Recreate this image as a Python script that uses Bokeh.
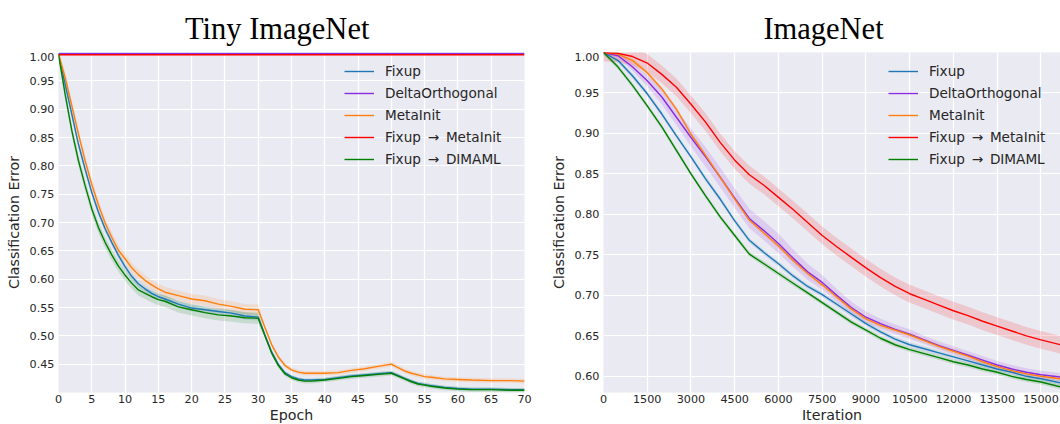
from bokeh.plotting import figure
from bokeh.models import (Range1d, FixedTicker, PrintfTickFormatter, Legend, LegendItem)
from bokeh.core.properties import value
from bokeh.layouts import row, column
from bokeh.embed import file_html
from bokeh.resources import INLINE

# ---------------- data: Tiny ImageNet (epochs) ----------------
tiny_epochs = [0, 1, 2, 3, 4, 5, 6, 7, 8, 9, 10, 11, 12, 13, 14, 15, 16, 18, 20, 22, 24, 26, 28, 30,
               31, 32, 33, 34, 35, 36, 37, 38, 40, 42, 44, 46, 48, 50, 51, 52, 53, 54, 55, 56, 58,
               60, 62, 65, 68, 70]
tiny_fixup = [0.997, 0.944, 0.891, 0.838, 0.794, 0.753, 0.718, 0.689, 0.665, 0.642, 0.622, 0.605,
              0.592, 0.583, 0.575, 0.569, 0.565, 0.556, 0.549, 0.546, 0.543, 0.540, 0.535, 0.533,
              0.502, 0.472, 0.450, 0.435, 0.428, 0.424, 0.422, 0.422, 0.423, 0.426, 0.429, 0.431,
              0.433, 0.435, 0.430, 0.425, 0.420, 0.416, 0.414, 0.412, 0.409, 0.407, 0.406, 0.406,
              0.405, 0.405]
tiny_metainit = [0.997, 0.956, 0.906, 0.856, 0.809, 0.767, 0.731, 0.699, 0.674, 0.651, 0.636, 0.620,
                 0.608, 0.598, 0.590, 0.583, 0.577, 0.571, 0.565, 0.562, 0.556, 0.552, 0.547, 0.546,
                 0.515, 0.485, 0.463, 0.448, 0.440, 0.436, 0.434, 0.434, 0.434, 0.435, 0.439, 0.442,
                 0.446, 0.450, 0.444, 0.438, 0.434, 0.431, 0.428, 0.427, 0.424, 0.423, 0.422, 0.421,
                 0.421, 0.420]
tiny_dimaml = [0.997, 0.926, 0.862, 0.809, 0.765, 0.724, 0.691, 0.665, 0.643, 0.623, 0.607, 0.593,
               0.581, 0.575, 0.569, 0.564, 0.561, 0.551, 0.546, 0.541, 0.537, 0.535, 0.532, 0.531,
               0.500, 0.470, 0.448, 0.433, 0.426, 0.422, 0.420, 0.420, 0.422, 0.425, 0.428, 0.430,
               0.432, 0.434, 0.429, 0.424, 0.419, 0.415, 0.413, 0.411, 0.408, 0.406, 0.405, 0.405,
               0.404, 0.404]
tiny_flat_epochs = [0, 35, 70]
tiny_delta = [0.9985, 0.9985, 0.9985]
tiny_fixup_metainit = [0.996, 0.996, 0.996]
# band half-widths (before / after epoch 30)
tiny_spread = {"fixup": (0.006, 0.003), "delta": (0.001, 0.001), "metainit": (0.009, 0.004),
               "fm": (0.001, 0.001), "dimaml": (0.010, 0.004)}

# ---------------- data: ImageNet (iterations) ----------------
img_iters = [0, 500, 1000, 1500, 2000, 2500, 3000, 3500, 4000, 4500, 5000, 5500, 6000, 6500, 7000,
             7500, 8000, 8500, 9000, 9500, 10000, 10500, 11000, 11500, 12000, 12500, 13000, 13500,
             14000, 14500, 15000, 15670]
img_fixup = [1.0, 0.990, 0.971, 0.949, 0.924, 0.897, 0.871, 0.844, 0.819, 0.792, 0.768, 0.753, 0.739,
             0.724, 0.711, 0.701, 0.689, 0.677, 0.665, 0.655, 0.646, 0.639, 0.634, 0.629, 0.624,
             0.619, 0.614, 0.609, 0.605, 0.600, 0.597, 0.592]
img_delta = [1.0, 0.996, 0.982, 0.965, 0.945, 0.920, 0.895, 0.871, 0.846, 0.820, 0.795, 0.780, 0.764,
             0.746, 0.729, 0.716, 0.700, 0.685, 0.673, 0.665, 0.658, 0.652, 0.645, 0.638, 0.632,
             0.626, 0.620, 0.614, 0.609, 0.605, 0.602, 0.599]
img_metainit = [1.0, 0.998, 0.990, 0.975, 0.955, 0.930, 0.899, 0.873, 0.846, 0.819, 0.793, 0.777,
                0.761, 0.743, 0.727, 0.713, 0.698, 0.683, 0.671, 0.663, 0.657, 0.651, 0.644, 0.637,
                0.631, 0.625, 0.618, 0.612, 0.607, 0.603, 0.600, 0.597]
img_fixup_metainit = [1.0, 0.999, 0.995, 0.987, 0.973, 0.957, 0.936, 0.914, 0.889, 0.867, 0.849,
                      0.836, 0.821, 0.806, 0.790, 0.774, 0.760, 0.747, 0.734, 0.722, 0.711, 0.702,
                      0.695, 0.688, 0.681, 0.675, 0.668, 0.662, 0.656, 0.650, 0.645, 0.639]
img_dimaml = [1.0, 0.982, 0.959, 0.934, 0.908, 0.879, 0.850, 0.823, 0.797, 0.774, 0.751, 0.739,
              0.727, 0.715, 0.703, 0.691, 0.679, 0.667, 0.657, 0.647, 0.639, 0.633, 0.628, 0.623,
              0.618, 0.614, 0.609, 0.605, 0.600, 0.596, 0.593, 0.587]
img_spread = {"fixup": 0.003, "metainit": 0.003, "fm": 0.011, "dimaml": 0.003}
img_delta_spread = [0.0, 0.003, 0.005, 0.007, 0.009, 0.010, 0.011, 0.012, 0.012, 0.012, 0.012,
                    0.012, 0.012, 0.011, 0.010, 0.009, 0.008, 0.007, 0.007, 0.006, 0.006, 0.006,
                    0.005, 0.005, 0.005, 0.005, 0.005, 0.005, 0.005, 0.005, 0.005, 0.005]

labels = ["Fixup", "DeltaOrthogonal", "MetaInit",
          "Fixup\u2002\u2192\u2002MetaInit", "Fixup\u2002\u2192\u2002DIMAML"]
colors = ["#1f77b4", "#8a2be2", "#ff7f0e", "#ff0000", "#008000"]
titles = ["Tiny ImageNet", "ImageNet"]

tiny_x_ticks = [0, 5, 10, 15, 20, 25, 30, 35, 40, 45, 50, 55, 60, 65, 70]
tiny_y_ticks = [0.45, 0.50, 0.55, 0.60, 0.65, 0.70, 0.75, 0.80, 0.85, 0.90, 0.95, 1.00]
img_x_ticks = [0, 1500, 3000, 4500, 6000, 7500, 9000, 10500, 12000, 13500, 15000]
img_y_ticks = [0.60, 0.65, 0.70, 0.75, 0.80, 0.85, 0.90, 0.95, 1.00]

BG = "#EAEAF2"
TXT = "#262626"
FONT = "DejaVu Sans"

# ---------------- title strip: x in px from left, y in px up from the strip bottom ----------------
TITLE_H = 52
tstrip = figure(width=1060, height=TITLE_H, x_range=Range1d(0, 1060), y_range=Range1d(0, TITLE_H),
                x_axis_type=None, y_axis_type=None,
                output_backend="svg", toolbar_location=None, title=None,
                min_border_left=0, min_border_right=0, min_border_top=0, min_border_bottom=0)
tstrip.grid.visible = False
tstrip.outline_line_color = None
tstrip.background_fill_color = "white"
tstrip.border_fill_color = "white"
tstrip.text(x=[276.7, 823.0], y=[TITLE_H - 28.3, TITLE_H - 28.3], text=titles,
            text_font=value("Liberation Serif"), text_font_size=value("30.5px"),
            text_color="black", text_align="center", text_baseline="alphabetic")


def make_fig(x_range, y_range, frame_w, min_left, min_right, xticks, yticks, xfmt, xlabel):
    p = figure(frame_width=frame_w, frame_height=340, x_range=x_range, y_range=y_range,
               output_backend="svg", toolbar_location=None, title=None,
               min_border_left=min_left, min_border_right=min_right,
               min_border_top=0, min_border_bottom=32)
    p.background_fill_color = BG
    p.border_fill_color = "white"
    p.outline_line_color = None
    for g in (p.xgrid, p.ygrid):
        g.grid_line_color = "white"
        g.grid_line_width = 1.2
    p.xaxis.ticker = FixedTicker(ticks=xticks)
    p.yaxis.ticker = FixedTicker(ticks=yticks)
    p.xaxis.formatter = xfmt
    p.yaxis.formatter = PrintfTickFormatter(format="%.2f")
    for ax in (p.xaxis[0], p.yaxis[0]):
        ax.axis_line_color = None
        ax.major_tick_line_color = None
        ax.minor_tick_line_color = None
        ax.major_tick_in = 0
        ax.major_tick_out = 0
        ax.minor_tick_out = 0
        ax.major_label_text_font = FONT
        ax.major_label_text_font_size = "11.2px"
        ax.major_label_text_color = TXT
        ax.axis_label_text_font = FONT
        ax.axis_label_text_font_size = "14.2px"
        ax.axis_label_text_font_style = "normal"
        ax.axis_label_text_color = TXT
    p.xaxis.major_label_standoff = 2
    p.xaxis.axis_label_standoff = 1
    p.yaxis.major_label_standoff = 4
    p.yaxis.axis_label_standoff = 5
    p.xaxis.axis_label = xlabel
    p.yaxis.axis_label = "Classification Error"
    return p


def add_legend(p, renderers, xoff):
    items = [LegendItem(label=l, renderers=[r]) for l, r in zip(labels, renderers)]
    leg = Legend(items=items, location=(xoff, 224), padding=0, margin=0,
                 background_fill_alpha=0, border_line_alpha=0,
                 label_text_font=FONT, label_text_font_size="13.6px", label_text_color=TXT,
                 glyph_width=30, glyph_height=18, label_height=18, spacing=4, label_standoff=11)
    p.add_layout(leg)


# ---------------- left: Tiny ImageNet ----------------
p1 = make_fig(Range1d(0, 70), Range1d(0.40, 1.0), 466, 58, 16, tiny_x_ticks, tiny_y_ticks,
              PrintfTickFormatter(format="%d"), "Epoch")

tiny_series = [("fixup", tiny_epochs, tiny_fixup), ("delta", tiny_flat_epochs, tiny_delta),
               ("metainit", tiny_epochs, tiny_metainit),
               ("fm", tiny_flat_epochs, tiny_fixup_metainit), ("dimaml", tiny_epochs, tiny_dimaml)]
for (key, xs, ys), c in zip(tiny_series, colors):
    lo, hi = [], []
    for x, y in zip(xs, ys):
        s = tiny_spread[key][0] if x <= 30 else tiny_spread[key][1]
        lo.append(y - s)
        hi.append(y + s)
    p1.varea(x=xs, y1=lo, y2=hi, fill_color=c, fill_alpha=0.15)
rends1 = []
for (key, xs, ys), c in zip(tiny_series, colors):
    rends1.append(p1.line(xs, ys, line_color=c, line_width=1.4))
add_legend(p1, rends1, 286)

# ---------------- right: ImageNet ----------------
p2 = make_fig(Range1d(0, 15670), Range1d(0.58, 1.0), 457, 63, 0, img_x_ticks, img_y_ticks,
              PrintfTickFormatter(format="%d"), "Iteration")

img_series = [("fixup", img_fixup), ("delta", img_delta), ("metainit", img_metainit),
              ("fm", img_fixup_metainit), ("dimaml", img_dimaml)]
for (key, ys), c in zip(img_series, colors):
    if key == "delta":
        spreads = img_delta_spread
    else:
        spreads = [img_spread[key]] * len(ys)
    lo = [y - s for y, s in zip(ys, spreads)]
    hi = [y + s for y, s in zip(ys, spreads)]
    p2.varea(x=img_iters, y1=lo, y2=hi, fill_color=c, fill_alpha=0.15)
rends2 = []
for (key, ys), c in zip(img_series, colors):
    rends2.append(p2.line(img_iters, ys, line_color=c, line_width=1.4))
add_legend(p2, rends2, 285)

layout = column(tstrip, row(p1, p2, spacing=0), spacing=0)
open("out.html", "w").write(file_html(layout, INLINE))
